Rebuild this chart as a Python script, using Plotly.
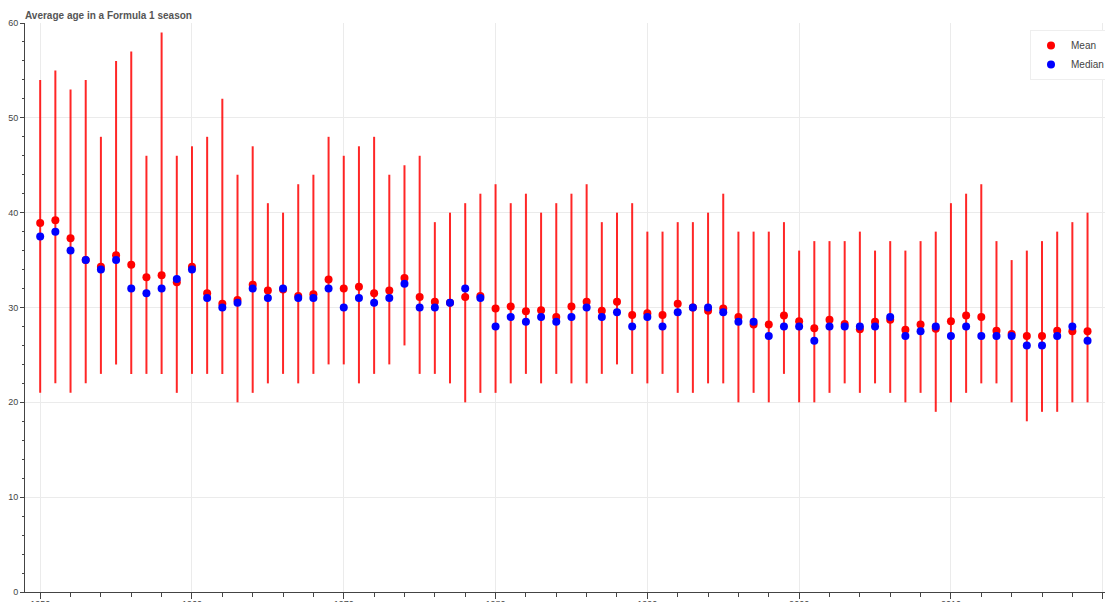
import plotly.graph_objects as go

years = list(range(1950, 2020))
mean_age = [38.9, 39.2, 37.3, 35.0, 34.3, 35.5, 34.5, 33.2, 33.4, 32.65,
            34.3, 31.5, 30.4, 30.8, 32.4, 31.8, 31.9, 31.2, 31.4, 32.95,
            32.0, 32.2, 31.5, 31.8, 33.1, 31.1, 30.6, 30.5, 31.1, 31.2,
            29.9, 30.1, 29.6, 29.7, 29.0, 30.1, 30.6, 29.65, 30.6, 29.2,
            29.4, 29.2, 30.4, 30.0, 29.65, 29.9, 29.0, 28.2, 28.2, 29.15,
            28.55, 27.8, 28.7, 28.25, 27.7, 28.5, 28.7, 27.65, 28.2, 27.75,
            28.55, 29.15, 29.0, 27.55, 27.2, 27.0, 27.0, 27.55, 27.5, 27.5]
median_age = [37.5, 38.0, 36.0, 35.0, 34.0, 35.0, 32.0, 31.5, 32.0, 33.0,
              34.0, 31.0, 30.0, 30.5, 32.0, 31.0, 32.0, 31.0, 31.0, 32.0,
              30.0, 31.0, 30.5, 31.0, 32.5, 30.0, 30.0, 30.5, 32.0, 31.0,
              28.0, 29.0, 28.5, 29.0, 28.5, 29.0, 30.0, 29.0, 29.5, 28.0,
              29.0, 28.0, 29.5, 30.0, 30.0, 29.5, 28.5, 28.5, 27.0, 28.0,
              28.0, 26.5, 28.0, 28.0, 28.0, 28.0, 29.0, 27.0, 27.5, 28.0,
              27.0, 28.0, 27.0, 27.0, 27.0, 26.0, 26.0, 27.0, 28.0, 26.5]
min_age = [21, 22, 21, 22, 23, 24, 23, 23, 23, 21,
           23, 23, 23, 20, 21, 22, 23, 22, 23, 24,
           24, 22, 23, 24, 26, 23, 23, 22, 20, 21,
           21, 22, 23, 22, 23, 22, 22, 23, 24, 23,
           22, 23, 21, 21, 22, 22, 20, 21, 20, 23,
           20, 20, 21, 22, 21, 22, 21, 20, 21, 19,
           20, 21, 22, 22, 20, 18, 19, 19, 20, 20]
max_age = [54, 55, 53, 54, 48, 56, 57, 46, 59, 46,
           47, 48, 52, 44, 47, 41, 40, 43, 44, 48,
           46, 47, 48, 44, 45, 46, 39, 40, 41, 42,
           43, 41, 42, 40, 41, 42, 43, 39, 40, 41,
           38, 38, 39, 39, 40, 42, 38, 38, 38, 39,
           36, 37, 37, 37, 38, 36, 37, 36, 37, 38,
           41, 42, 43, 37, 35, 36, 37, 38, 39, 40]

range_x, range_y = [], []
for yr, lo, hi in zip(years, min_age, max_age):
    range_x += [yr, yr, None]
    range_y += [lo, hi, None]

fig = go.Figure()
fig.add_trace(go.Scatter(x=range_x, y=range_y, mode="lines",
                         line=dict(color="rgba(255,0,0,0.85)", width=2),
                         showlegend=False, hoverinfo="skip"))
fig.add_trace(go.Scatter(x=years, y=mean_age, mode="markers", name="Mean",
                         marker=dict(color="red", size=8)))
fig.add_trace(go.Scatter(x=years, y=median_age, mode="markers", name="Median",
                         marker=dict(color="blue", size=8)))

W, H = 1105, 602
L, R, T, B = 25, 0, 23, 10
PW, PH = W - L - R, H - T - B
fig.update_layout(
    width=W, height=H,
    margin=dict(l=L, r=R, t=T, b=B, autoexpand=False),
    paper_bgcolor="white", plot_bgcolor="white",
    font=dict(family="Liberation Sans, Arial, sans-serif", size=10, color="#444"),
    title=dict(text="<b>Average age in a Formula 1 season</b>", x=L/W, xanchor="left",
               y=1 - 15/H, yanchor="middle",
               font=dict(size=10, color="#555")),
    legend=dict(x=(1030 - L)/PW, xanchor="left", y=1 - 7/PH, yanchor="top",
                bgcolor="white", bordercolor="#eeeeee", borderwidth=1,
                font=dict(size=10, color="#444")),
    xaxis=dict(range=[1949.0, 2020.15], dtick=10, tick0=1950, automargin=False,
               showgrid=True, gridcolor="#ebebeb", gridwidth=1, zeroline=False,
               showline=True, linecolor="#444", linewidth=1,
               ticks="outside", ticklen=6, tickcolor="#444", ticklabelstandoff=-3,
               minor=dict(dtick=2, ticks="outside", ticklen=4, tickcolor="#444", showgrid=False),
               tickfont=dict(size=9, color="#444")),
    yaxis=dict(range=[0, 60], dtick=10, automargin=False,
               showgrid=True, gridcolor="#ebebeb", gridwidth=1,
               zeroline=False, showline=True, linecolor="#444", linewidth=1,
               ticks="outside", ticklen=4, tickcolor="#444",
               minor=dict(dtick=2, ticks="outside", ticklen=2, tickcolor="#444", showgrid=False),
               tickfont=dict(size=9, color="#444")),
)

fig.write_html("out.html", config={"displayModeBar": False},
               post_script="document.body.style.margin='0';document.body.style.overflow='hidden';")
